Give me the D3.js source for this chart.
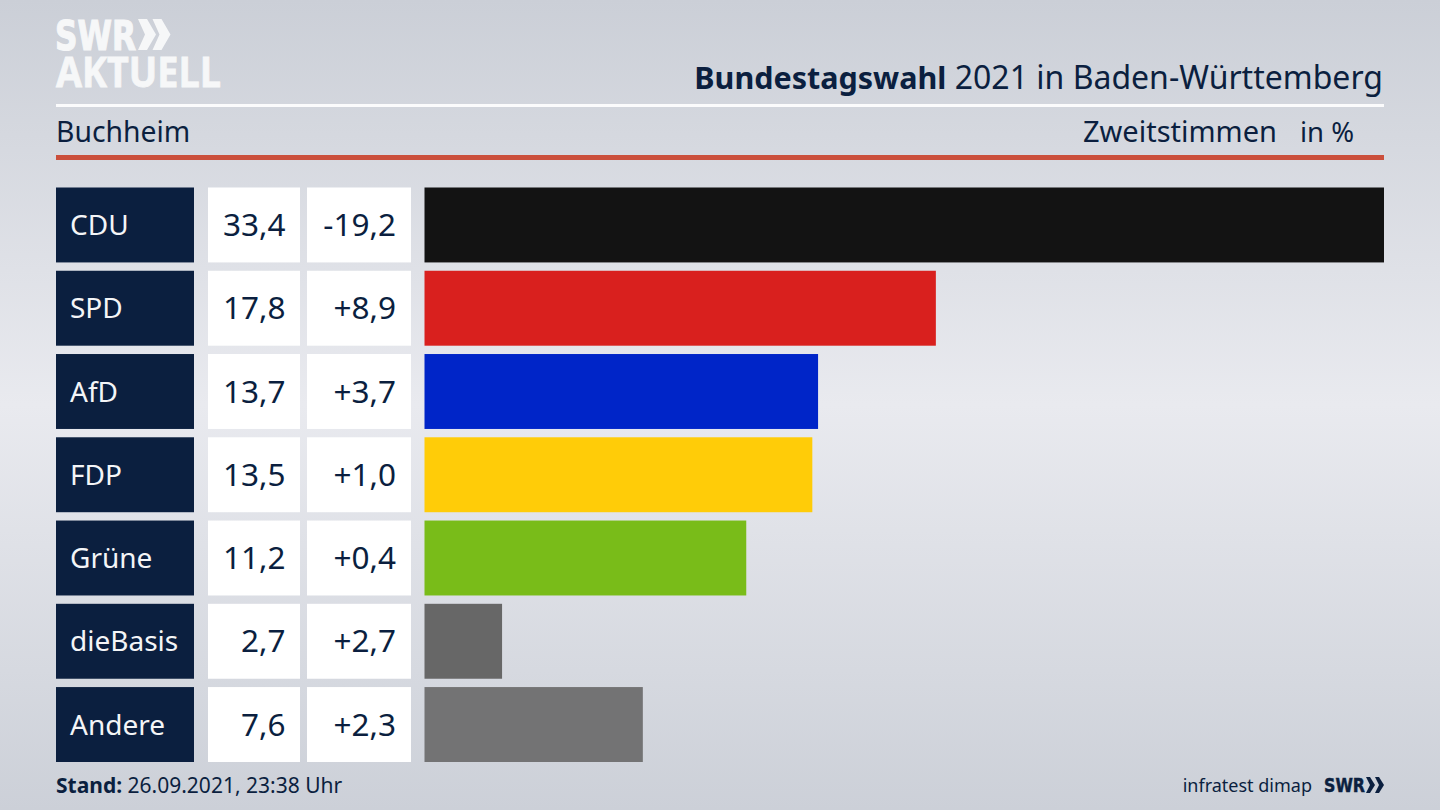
<!DOCTYPE html>
<html>
<head>
<meta charset="utf-8">
<script src="https://cdn.jsdelivr.net/npm/d3@7"></script>
<style>
html, body { margin: 0; padding: 0; overflow: hidden; }
text { font-family: "Noto Sans", sans-serif; }
</style>
</head>
<body>
<script>
const parties = ['CDU', 'SPD', 'AfD', 'FDP', 'Grüne', 'dieBasis', 'Andere'];
const shares = [33.4, 17.8, 13.7, 13.5, 11.2, 2.7, 7.6];
const changes = ['-19,2', '+8,9', '+3,7', '+1,0', '+0,4', '+2,7', '+2,3'];
const barColors = ['#131313', '#d9201e', '#0025c8', '#ffcc08', '#79bc19', '#676767', '#737374'];

const width = 1440;
const height = 810;
const navy = '#0b1f3f';

const svg = d3.select('body').append('svg')
  .attr('width', width)
  .attr('height', height)
  .style('display', 'block');

const defs = svg.append('defs');
const bg = defs.append('linearGradient').attr('id', 'bg')
  .attr('x1', 0).attr('y1', 0).attr('x2', 0).attr('y2', 1);
bg.append('stop').attr('offset', '0%').attr('stop-color', '#cbcfd7');
bg.append('stop').attr('offset', '50%').attr('stop-color', '#e9eaef');
bg.append('stop').attr('offset', '100%').attr('stop-color', '#ccd0d8');

svg.append('rect').attr('width', width).attr('height', height).attr('fill', 'url(#bg)');

const x = d3.scaleLinear().domain([0, 33.4]).range([424.5, 1384]);
const y = d3.scaleBand().domain(parties).range([187.5, 762]).paddingInner(0.1);

// header logo, one text block so the two lines stay together
const logo = svg.append('g').attr('fill', '#f6f7f8');
logo.append('text')
  .attr('stroke', '#f6f7f8')
  .call((t) => {
    t.append('tspan').attr('x', 55).attr('y', 50)
      .attr('font-size', 41).attr('font-weight', 700).attr('stroke-width', 1.2)
      .style('font-family', '"DejaVu Sans", sans-serif')
      .attr('textLength', 81).attr('lengthAdjust', 'spacingAndGlyphs')
      .text('SWR');
    t.append('tspan').attr('x', 56).attr('y', 87)
      .attr('font-size', 42).attr('font-weight', 700).attr('stroke-width', 0.8)
      .style('font-family', '"Open Sans", sans-serif')
      .attr('textLength', 165).attr('lengthAdjust', 'spacingAndGlyphs')
      .text('AKTUELL');
  });
[0, 1].forEach((i) => {
  const dx = 138 + i * 14.5;
  logo.append('path')
    .attr('d', `M${dx},19 L${dx + 9},19 L${dx + 18},34.5 L${dx + 9},50 L${dx},50 L${dx + 7},34.5 Z`);
});

svg.append('text').attr('x', 1383).attr('y', 89)
  .attr('text-anchor', 'end').attr('font-size', 32).attr('fill', navy)
  .call((t) => {
    t.append('tspan').attr('font-weight', 700).attr('font-size', 30.5).text('Bundestagswahl');
    t.append('tspan').text(' 2021 in Baden-Württemberg');
  });

svg.append('rect').attr('x', 56).attr('y', 104).attr('width', 1328).attr('height', 3).attr('fill', '#fbfbfc');
svg.append('rect').attr('x', 56).attr('y', 155).attr('width', 1328).attr('height', 5).attr('fill', '#cb4f3c');

svg.append('text').attr('x', 56).attr('y', 142).attr('font-size', 28.3).attr('fill', navy).text('Buchheim');
svg.append('text').attr('x', 1277).attr('y', 142).attr('text-anchor', 'end').attr('font-size', 29).attr('fill', navy).text('Zweitstimmen');
svg.append('text').attr('x', 1354).attr('y', 142).attr('text-anchor', 'end').attr('font-size', 27.5).attr('fill', navy).text('in %');

// one row per party
const rows = svg.selectAll('g.row')
  .data(parties)
  .join('g')
  .attr('class', 'row')
  .attr('transform', (d) => `translate(0,${y(d)})`);

rows.append('rect').attr('x', 56).attr('width', 138).attr('height', y.bandwidth()).attr('fill', navy);
rows.append('rect').attr('x', 208).attr('width', 92).attr('height', y.bandwidth()).attr('fill', '#fff');
rows.append('rect').attr('x', 307).attr('width', 104).attr('height', y.bandwidth()).attr('fill', '#fff');

rows.append('text')
  .attr('x', 70).attr('y', 47.5)
  .attr('font-size', 28).attr('fill', '#f4f5f7')
  .text((d) => d);

rows.append('text')
  .attr('x', 285.5).attr('y', 48.5)
  .attr('text-anchor', 'end').attr('font-size', 31.5).attr('fill', navy)
  .text((d, i) => shares[i].toFixed(1).replace('.', ','));

rows.append('text')
  .attr('x', 396).attr('y', 48.5)
  .attr('text-anchor', 'end').attr('font-size', 31.5).attr('fill', navy)
  .text((d, i) => changes[i]);

rows.append('rect')
  .attr('x', x(0))
  .attr('width', (d, i) => x(shares[i]) - x(0))
  .attr('height', y.bandwidth())
  .attr('fill', (d, i) => barColors[i]);

// footer
svg.append('text').attr('x', 56).attr('y', 793).attr('font-size', 21).attr('fill', navy)
  .call((t) => {
    t.append('tspan').attr('font-weight', 700).text('Stand:');
    t.append('tspan').text(' 26.09.2021, 23:38 Uhr');
  });
svg.append('text').attr('x', 1312).attr('y', 792).attr('text-anchor', 'end').attr('font-size', 18).attr('fill', navy).text('infratest dimap');
svg.append('text').attr('x', 1324).attr('y', 792)
  .attr('font-size', 20).attr('font-weight', 700).attr('fill', navy)
  .attr('stroke', navy).attr('stroke-width', 0.5)
  .style('font-family', '"DejaVu Sans", sans-serif')
  .attr('textLength', 41).attr('lengthAdjust', 'spacingAndGlyphs')
  .text('SWR');
[0, 1].forEach((i) => {
  const dx = 1366 + i * 9;
  svg.append('path').attr('fill', navy)
    .attr('d', `M${dx},777 L${dx + 4},777 L${dx + 9},785 L${dx + 4},793 L${dx},793 L${dx + 4},785 Z`);
});
</script>
</body>
</html>
